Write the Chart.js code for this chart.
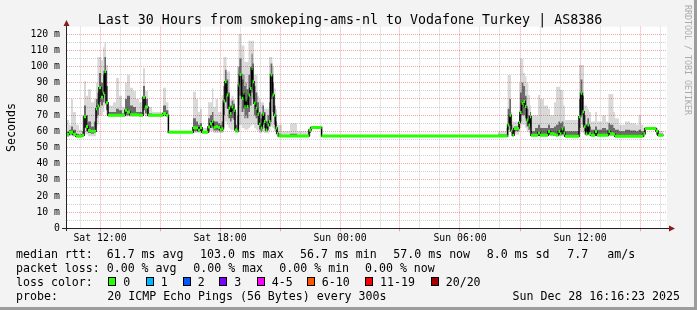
<!DOCTYPE html>
<html>
<head>
<meta charset="utf-8">
<script src="https://cdn.jsdelivr.net/npm/chart.js@4.4.1/dist/chart.umd.min.js"></script>
<style>
  html, body { margin: 0; padding: 0; background: #f3f3f3; }
  canvas { display: block; }
</style>
</head>
<body>
<canvas id="pingChart" width="697" height="310"></canvas>
<script>
// time of each sample, hours since Sat 00:00 (value holds until the next sample)
const hours = [
  10.25, 10.45, 10.55, 10.65, 10.8, 10.95, 11.1, 11.2, 11.3, 11.4, 11.55, 11.7, 11.8, 11.87, 11.95, 12.05, 12.15, 12.22, 12.3, 12.4,
  12.65, 12.8, 12.95, 13.1, 13.25, 13.35, 13.5, 13.65, 13.8, 13.95, 14.1, 14.15, 14.25, 14.4, 14.6, 15.15, 15.3,
  15.42, 16.65, 16.8, 16.9, 17.0, 17.1, 17.4, 17.5, 17.6, 17.67, 17.78, 17.9, 18.0, 18.08,
  18.17, 18.25, 18.33, 18.42, 18.5, 18.58, 18.67, 18.75, 18.85, 18.92, 18.97, 19.08, 19.17, 19.22, 19.28, 19.33, 19.42, 19.5,
  19.58, 19.63, 19.7, 19.78, 19.87, 19.95, 20.03, 20.12, 20.2, 20.28, 20.37, 20.45, 20.53, 20.62, 20.7, 20.78, 20.85,
  20.92, 21.1, 21.5, 21.85, 22.45, 22.55, 23.08, 31.9, 32.3,
  32.38, 32.47, 32.55, 32.62, 32.7, 32.95, 33.0, 33.08, 33.17, 33.25, 33.33, 33.42, 33.5, 33.55, 33.75, 33.9, 34.0, 34.2,
  34.4, 34.5, 34.7, 34.8, 34.92, 35.0, 35.08, 35.17, 35.25,
  35.95, 36.03, 36.12, 36.2, 36.28, 36.37, 36.45, 36.55, 36.75, 36.85, 37.1, 37.3, 37.42, 37.5, 37.67, 37.75, 37.95, 38.25,
  38.5, 38.8, 38.92, 39.05, 39.17, 39.25, 39.8, 39.9, 40.17
];

// median rtt (ms)
const rttMedian = [
  58, 59.4, 59.4, 58, 57, 57, 57.5, 69, 63, 60.5, 60, 60, 74, 75.6, 87, 81, 83.6, 97, 77.7, 70,
  70, 70, 70, 70, 73, 72, 70.3, 70.3, 70.3, 70, 70, 81, 75, 70, 70, 71, 70,
  59.4, 62.2, 62.2, 60.7, 62.2, 59.4, 62.6, 64.7, 66, 62.3, 63, 62.3, 61, 61.5,
  78.7, 90.7, 82.4, 74.2, 71, 75, 73, 60.8, 60.2, 88.6, 95.2, 80.4, 83.5, 75.3, 79.4, 75.3, 82.4, 86.5,
  98.9, 90.7, 77.4, 74.2, 70.5, 64.4, 62, 70.5, 66, 60.8, 63.9, 66, 94.8, 82.4, 70, 62, 58.7,
  57.1, 57.1, 57.1, 57.1, 60.8, 62.3, 57.1, 57.1, 57.1,
  63.9, 70, 60.2, 57.6, 61.8, 65.5, 71.7, 77.3, 78.4, 75.3, 67, 63.9, 69, 57.6, 57.6, 59, 57.6, 57.6,
  59.8, 58.5, 58, 57.6, 59.8, 58.5, 61.4, 58.8, 57,
  69, 83.5, 72.1, 62.8, 58.5, 63.9, 58.5, 57.6, 59.8, 57.6, 57.6, 57.6, 59.8, 58.5, 58.2, 57, 57, 57,
  57, 57, 57, 57, 58.5, 61.8, 60.2, 57.6, 57.6
];

// smoke: lowest ping, lower spread, upper spread, highest ping (ms)
const rttMin = [
  56.5, 57, 57, 56.7, 56.7, 56.7, 56.7, 58, 58, 57, 57, 57, 62, 64, 70, 70, 72, 76, 70, 69,
  69, 69, 69, 69, 69, 69, 69, 69, 69, 69, 69, 70, 69, 69, 69, 69, 69,
  59, 59, 59, 59, 59, 59, 59, 60, 60, 59, 59, 59, 59, 59,
  62, 66, 64, 62, 61, 61, 61, 59, 59, 63, 64, 62, 62, 61, 61, 61, 62, 63,
  64, 64, 62, 61, 60, 59, 59, 60, 59, 59, 59, 60, 63, 62, 60, 58, 57,
  56.8, 56.8, 56.8, 56.8, 57, 61.5, 56.8, 56.8, 56.8,
  58, 60, 58, 57, 58, 60, 62, 64, 64, 62, 60, 59, 60, 57, 57, 57, 57, 57,
  57, 57, 57, 57, 57, 57, 57, 57, 56.8,
  58, 60, 59, 58, 57, 58, 57, 57, 57, 57, 57, 57, 57, 57, 57, 56.8, 56.8, 56.8,
  56.8, 56.8, 56.8, 56.8, 57, 61.5, 57.5, 57, 57
];
const rttLow = [
  57, 58, 58, 57.5, 56.8, 56.8, 57, 62, 60, 59, 58.5, 59, 68, 70, 78, 76, 78, 86, 73, 69.5,
  69.5, 69.5, 69.5, 69.5, 70, 70, 69.5, 69.5, 69.5, 69.5, 69.5, 73, 71, 69.5, 69.5, 70, 69.5,
  59.2, 60, 60, 59.5, 60, 59.2, 60, 62, 63, 60.5, 60.5, 60.5, 60, 60,
  70, 78, 74, 68, 66, 68, 67, 60, 60, 76, 82, 72, 74, 68, 70, 68, 72, 76,
  84, 80, 70, 68, 64, 61, 60, 64, 62, 60, 61, 63, 80, 72, 64, 60, 58,
  57, 57, 57, 57, 59, 62, 57, 57, 57,
  61, 64, 59, 57.3, 60, 62, 66, 70, 70, 68, 63, 61, 62, 57.3, 57.3, 58, 57.3, 57.3,
  58, 57.5, 57.5, 57.3, 58, 57.5, 58, 57.5, 57,
  62, 70, 64, 60, 57.5, 60, 57.5, 57.3, 58, 57.3, 57.3, 57.3, 58, 57.5, 57.5, 57, 57, 57,
  57, 57, 57, 57, 57.5, 61.7, 58, 57.3, 57.3
];
const rttHigh = [
  59.5, 61, 63, 61, 58.5, 58, 60, 76, 70, 66, 63, 66, 80, 84, 96, 90, 95, 106, 88, 72,
  72, 74, 73, 71, 80, 82, 76, 75, 72, 72, 71, 88, 80, 71, 70.5, 76, 73,
  59.6, 68, 66, 64, 65, 60, 68, 70, 72, 66, 66, 65, 64, 66,
  88, 98, 92, 84, 76, 79, 77, 64, 70, 100, 105, 92, 95, 88, 90, 86, 95, 100,
  108, 102, 88, 84, 78, 72, 68, 76, 72, 66, 70, 78, 102, 90, 76, 66, 60,
  58, 57.5, 58.5, 57.5, 61, 62.6, 57.3, 58, 58,
  74, 80, 64, 60, 63, 70, 84, 90, 88, 82, 74, 70, 72, 60, 62, 64, 62, 62,
  64, 62, 63, 64, 66, 65, 66, 63, 60,
  80, 92, 82, 70, 64, 68, 63, 61, 63, 61, 62, 61, 65, 64, 62, 61, 60, 61,
  60.5, 60, 61, 60, 60, 62, 61, 58.5, 58.5
];
const rttMax = [
  67, 64, 80, 72, 64, 61, 70, 91, 82, 86, 78, 80, 90, 106, 106, 104, 112, 115, 101, 76,
  78, 93, 82, 75, 90, 95, 87, 85, 80, 78, 74, 99, 85, 75, 72, 87, 78,
  60, 84.5, 80, 72, 74, 62, 78, 78, 86.6, 75, 80, 72, 72, 82.5,
  106, 106, 97, 97, 80, 82, 80, 72, 100, 120, 120, 113, 113, 103, 103, 103, 116, 116,
  116, 116, 95, 95, 82, 80, 78, 78, 74, 74, 74, 106, 106, 100, 86.6, 74, 64,
  64, 60, 65, 60, 62, 63, 57.5, 60, 62,
  94.8, 94.8, 72, 66, 66, 90, 105, 105, 96, 94, 90, 82.5, 76, 70, 70, 82.5, 80, 76,
  74, 70, 78, 87.6, 87.6, 85.6, 85.6, 76, 67,
  101, 101, 101, 76, 76, 74, 72, 66, 72, 66, 70, 66, 83, 83, 72, 68, 64, 66,
  65, 64, 70, 64, 62, 62.5, 62, 60, 60
];

const xTickHours = [12, 18, 24, 30, 36];
const xTickLabels = ['Sat 12:00', 'Sat 18:00', 'Sun 00:00', 'Sun 06:00', 'Sun 12:00'];

const titleText = 'Last 30 Hours from smokeping-ams-nl to Vodafone Turkey | AS8386';
const rttStats = ['61.7 ms avg', '103.0 ms max', '56.7 ms min', '57.0 ms now', '8.0 ms sd', '7.7', 'am/s'];
const lossStats = ['0.00 % avg', '0.00 % max', '0.00 % min', '0.00 % now'];
const lossLabels = ['0', '1', '2', '3', '4-5', '6-10', '11-19', '20/20'];
const lossColors = ['#26ff00', '#00b8ff', '#0059ff', '#7e00ff', '#ff00ff', '#ff5500', '#ff0000', '#a10000'];
const probeText = '20 ICMP Echo Pings (56 Bytes) every 300s';
const stampText = 'Sun Dec 28 16:16:23 2025';

const MONO = '"DejaVu Sans Mono", monospace';
const majorGrid = 'rgba(235, 90, 90, 0.55)';
const minorGrid = 'rgba(120, 120, 120, 0.35)';

// grid positions: every hour, every 5 ms
const gridHours = [];
for (let h = 11; h <= 40; h++) gridHours.push(h);
const gridMs = [];
for (let v = 0; v <= 120; v += 5) gridMs.push(v);

const pts = arr => hours.map((h, i) => ({ x: h, y: arr[i] }));

// green median: only the flat part of each step, the risers stay black
const greenSteps = [];
for (let i = 0; i < hours.length - 1; i++) {
    greenSteps.push({ x: hours[i], y: rttMedian[i] });
    greenSteps.push({ x: hours[i + 1], y: rttMedian[i] });
    greenSteps.push({ x: hours[i + 1], y: null });
}

// 'before' in Chart.js = previous value held until the next sample
// order: higher number is painted first (further back)
function band(arr, fill, color, order) {
    return {
        data: pts(arr), stepped: 'before', pointRadius: 0,
        borderWidth: 0, borderColor: 'transparent',
        fill: fill, backgroundColor: color, order: order
    };
}

const framePlugin = {
    id: 'frame',
    beforeDraw(chart) {
        const { ctx, chartArea: a } = chart;
        ctx.save();
        ctx.fillStyle = '#f3f3f3';
        ctx.fillRect(0, 0, chart.width, chart.height);
        ctx.fillStyle = '#ffffff';
        ctx.fillRect(a.left, a.top, a.right - a.left, a.bottom - a.top);
        ctx.restore();
    },
    afterDraw(chart) {
        const { ctx } = chart;
        ctx.save();

        // axes with arrows
        ctx.fillStyle = '#222';
        ctx.fillRect(66, 24, 1, 207);
        ctx.fillRect(62, 228, 607, 1);
        ctx.fillStyle = '#8b1c1c';
        ctx.beginPath();
        ctx.moveTo(66.5, 20); ctx.lineTo(63.5, 26); ctx.lineTo(69.5, 26); ctx.closePath();
        ctx.fill();
        ctx.beginPath();
        ctx.moveTo(675, 228.5); ctx.lineTo(669, 225.5); ctx.lineTo(669, 231.5); ctx.closePath();
        ctx.fill();

        // title
        ctx.fillStyle = '#000';
        ctx.font = '13.3px ' + MONO;
        ctx.textAlign = 'center';
        ctx.textBaseline = 'alphabetic';
        ctx.fillText(titleText, 350, 24);

        // y axis title
        ctx.font = '11.6px ' + MONO;
        ctx.save();
        ctx.translate(15, 127.5);
        ctx.rotate(-Math.PI / 2);
        ctx.fillText('Seconds', 0, 0);
        ctx.restore();

        // watermark
        ctx.save();
        ctx.fillStyle = '#ababab';
        ctx.font = '8.3px ' + MONO;
        ctx.textAlign = 'left';
        ctx.translate(685, 5);
        ctx.rotate(Math.PI / 2);
        ctx.fillText('RRDTOOL / TOBI OETIKER', 0, 0);
        ctx.restore();

        // legend
        ctx.textAlign = 'left';
        ctx.fillStyle = '#000';
        ctx.font = '11.6px ' + MONO;
        ctx.fillText('median rtt:', 16, 258);
        const rttX = [106.7, 200, 300, 393.3, 486.7, 567.3, 607.3];
        rttStats.forEach((t, i) => ctx.fillText(t, rttX[i], 258));

        ctx.fillText('packet loss:', 16, 272);
        const lossX = [106.7, 193.3, 279.3, 365];
        lossStats.forEach((t, i) => ctx.fillText(t, lossX[i], 272));

        ctx.fillText('loss color:', 16, 286);
        const boxX = [108.3, 145.7, 182.7, 219.3, 256.7, 306.7, 365, 430.7];
        lossLabels.forEach((t, i) => {
            const bx = Math.round(boxX[i]);
            ctx.fillStyle = lossColors[i];
            ctx.fillRect(bx, 277, 8, 9);
            ctx.strokeStyle = '#000';
            ctx.lineWidth = 1;
            ctx.strokeRect(bx + 0.5, 277.5, 7, 8);
            ctx.fillStyle = '#000';
            ctx.fillText(t, boxX[i] + 15, 286);
        });

        ctx.fillText('probe:', 16, 300);
        ctx.fillText(probeText, 107.3, 300);
        ctx.textAlign = 'right';
        ctx.fillText(stampText, 680, 300);

        // shaded frame
        ctx.fillStyle = '#9c9c9c';
        ctx.fillRect(694, 0, 3, 310);
        ctx.fillRect(0, 307, 697, 3);
        ctx.restore();
    }
};

new Chart(document.getElementById('pingChart').getContext('2d'), {
    type: 'line',
    data: {
        datasets: [
            band(rttMax, '+1', 'rgba(0, 0, 0, 0.15)', 5),
            band(rttMin, false, 'transparent', 4),
            band(rttHigh, '+1', 'rgba(0, 0, 0, 0.50)', 3),
            band(rttLow, false, 'transparent', 2),
            {
                data: pts(rttMedian), stepped: 'before', pointRadius: 0,
                borderColor: '#000', borderWidth: 1.5, fill: false, order: 1
            },
            {
                data: greenSteps, pointRadius: 0, spanGaps: false,
                borderColor: '#26ff00', borderWidth: 3, borderCapStyle: 'butt', fill: false, order: 0
            }
        ]
    },
    options: {
        responsive: false,
        devicePixelRatio: 1,
        animation: false,
        events: [],
        layout: { padding: { left: 0, top: 26.7, right: 30, bottom: 0 } },
        plugins: {
            legend: { display: false },
            title: { display: false },
            tooltip: { enabled: false }
        },
        scales: {
            x: {
                type: 'linear',
                min: 10.35,
                max: 40.35,
                afterBuildTicks: s => { s.ticks = gridHours.map(v => ({ value: v })); },
                afterFit: s => { s.height = 81.7; },
                grid: {
                    color: c => (c.tick && c.tick.value % 3 === 0) ? majorGrid : minorGrid,
                    lineWidth: 1,
                    drawTicks: true,
                    tickLength: 3,
                    tickColor: c => (c.tick && c.tick.value % 3 === 0) ? majorGrid : 'transparent'
                },
                border: { display: false, dash: [1, 1] },
                ticks: {
                    autoSkip: false,
                    maxRotation: 0,
                    padding: 1,
                    color: '#000',
                    font: { family: MONO, size: 9.8 },
                    callback: v => {
                        const k = xTickHours.indexOf(v);
                        return k < 0 ? '' : xTickLabels[k];
                    }
                }
            },
            y: {
                min: 0,
                max: 124.7,
                afterBuildTicks: s => { s.ticks = gridMs.map(v => ({ value: v })); },
                afterFit: s => { s.width = 67; },
                grid: {
                    color: c => (c.tick && c.tick.value % 10 === 0) ? majorGrid : minorGrid,
                    lineWidth: 1,
                    drawTicks: false
                },
                border: { display: false, dash: [1, 1] },
                ticks: {
                    autoSkip: false,
                    padding: 7,
                    color: '#000',
                    font: { family: MONO, size: 9.8 },
                    callback: v => v % 10 !== 0 ? '' : (v === 0 ? '0' : v + ' m')
                }
            }
        }
    },
    plugins: [framePlugin]
});
</script>
</body>
</html>
